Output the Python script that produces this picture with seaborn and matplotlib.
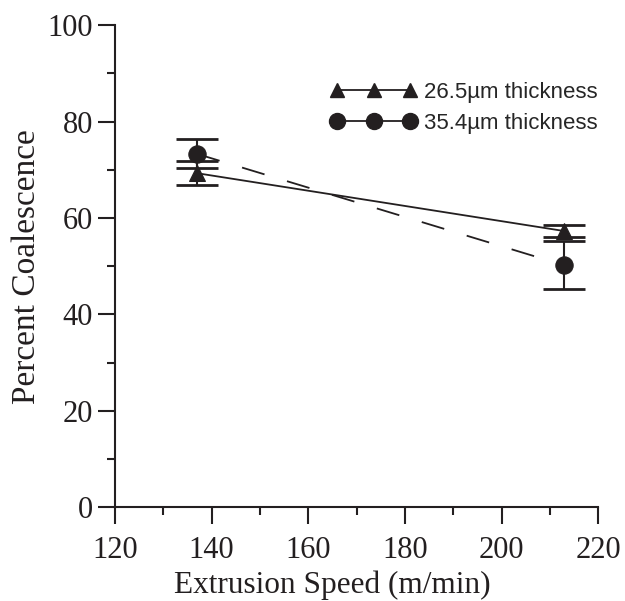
import matplotlib
matplotlib.use("Agg")
import matplotlib.pyplot as plt
from matplotlib.lines import Line2D
from matplotlib.ticker import MultipleLocator
import pandas as pd
import seaborn as sns

sns.set_theme(style="ticks")
plt.rcParams['font.family'] = ['Liberation Serif', 'DejaVu Serif']

# --- data ---
speed = [137, 213]
coal_265 = [69.3, 57.3]
err_265 = [2.5, 1.2]
coal_354 = [73.3, 50.2]
err_354 = [3.0, 5.0]
labels = ['26.5\u00b5m thickness', '35.4\u00b5m thickness']

df_265 = pd.DataFrame({'speed': speed, 'coal': coal_265, 'err': err_265})
df_354 = pd.DataFrame({'speed': speed, 'coal': coal_354, 'err': err_354})

ink = '#231f20'

fig = plt.figure(figsize=(6.25, 6.01), dpi=100)
ax = fig.add_axes([0.184, 0.156, 0.773, 0.802])

# error bars
ax.errorbar(df_265['speed'], df_265['coal'], yerr=df_265['err'], fmt='none',
            ecolor=ink, elinewidth=1.5, capsize=15, capthick=2, zorder=2)
ax.errorbar(df_354['speed'], df_354['coal'], yerr=df_354['err'], fmt='none',
            ecolor=ink, elinewidth=1.5, capsize=15, capthick=2, zorder=2)

# series
sns.lineplot(data=df_265, x='speed', y='coal', ax=ax, color=ink, linewidth=1.3,
             marker='^', markersize=12, markeredgecolor=ink, zorder=3)
sns.lineplot(data=df_354, x='speed', y='coal', ax=ax, color=ink, linewidth=1.3,
             linestyle=(0, (13, 13)), marker='o', markersize=12.5,
             markeredgecolor=ink, zorder=3)

ax.set_xlim(120, 220)
ax.set_ylim(0, 100)
ax.xaxis.set_major_locator(MultipleLocator(20))
ax.xaxis.set_minor_locator(MultipleLocator(10))
ax.yaxis.set_major_locator(MultipleLocator(20))
ax.yaxis.set_minor_locator(MultipleLocator(10))
sns.despine(ax=ax)
for s in ['left', 'bottom']:
    ax.spines[s].set_linewidth(1.5)
    ax.spines[s].set_color(ink)
ax.tick_params(which='major', length=12, width=1.5, color=ink,
               labelsize=22, labelcolor=ink, pad=4)
ax.tick_params(axis='x', which='major', pad=9)
ax.tick_params(which='minor', length=6, width=1.5, color=ink)

ax.set_xlabel('Extrusion Speed (m/min)', fontsize=22.5, color=ink)
ax.xaxis.set_label_coords(0.449, -0.132)
ax.set_ylabel('Percent Coalescence', fontsize=24, color=ink, labelpad=4)

handles = [
    Line2D([], [], color=ink, linewidth=1.3, marker='^', markersize=10),
    Line2D([], [], color=ink, linewidth=1.3, marker='o', markersize=11.5),
]
ax.legend(handles, labels, loc='upper right', bbox_to_anchor=(1.04, 0.924),
          frameon=False, numpoints=3, handlelength=3.9, handletextpad=0.3,
          labelspacing=0.45, prop={'family': 'Liberation Sans', 'size': 16})

fig.savefig('out.png', dpi=100)
